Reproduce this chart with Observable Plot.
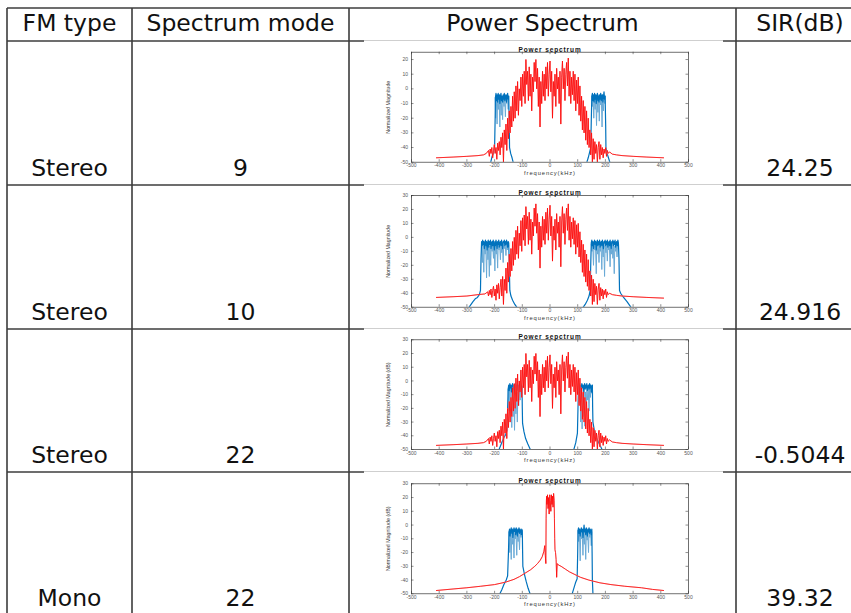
<!DOCTYPE html>
<html><head><meta charset="utf-8">
<script src="https://cdn.jsdelivr.net/npm/d3@7"></script>
<script src="https://cdn.jsdelivr.net/npm/@observablehq/plot@0.6"></script>
<style>
body{margin:0;background:#fff;}
#wrap{position:relative;width:851px;height:613px;overflow:hidden;background:#fff;}
.img{position:absolute;background:#fff;border-top:1px solid #cfcfcf;}
.img svg{display:block;}
</style></head><body><div id="wrap"></div>
<script>
// ---------- table content ----------
const headers = ["FM type", "Spectrum mode", "Power Spectrum", "SIR(dB)"];
const fmTypes = ["Stereo", "Stereo", "Stereo", "Mono"];
const modes = ["9", "10", "22", "22"];
const sirs = ["24.25", "24.916", "-0.5044", "39.32"];

// ---------- mini-plot content ----------
const plotTitle = "Power sepctrum";
const xLabel = "frequency(kHz)";
const yLabels = ["Normalized Magnitude", "Normalized Magnitude", "Normalized Magnitude (dB)", "Normalized Magnitude (dB)"];
const xTicks = [-500, -400, -300, -200, -100, 0, 100, 200, 300, 400, 500];
const yTicks25 = [-50, -40, -30, -20, -10, 0, 10, 20];
const yTicks30 = [-50, -40, -30, -20, -10, 0, 10, 20, 30];
const yTops = [25, 30, 30, 30];

// red spectrum (stereo, plots 1 and 3) [kHz, dB]
const redStereo = [[-410,-47],[-350,-46.5],[-300,-46],[-260,-45.5],[-240,-45],[-230,-44],
[-222,-42],[-219,-46],[-216,-41],[-213,-44],[-210,-40],[-207,-47],[-204,-42],[-201,-38],[-198,-44],[-195,-40],[-192,-48],[-189,-37],[-186,-42],[-183,-36],[-180,-45],[-177,-33],[-174,-40],[-171,-30],[-168,-50],[-165,-28],[-162,-38],[-159,-24],[-156,-42],[-153,-20],[-150,-34],[-147,-15],[-144,-30],[-141,-12],[-138,-26],[-135,-5],[-132,-22],[-129,-2],[-126,-20],[-123,2],[-120,-15],[-117,5],[-114,-18],[-111,0],[-108,-8],[-105,8],[-102,-12],[-99,10],[-96,-5],[-93,12],[-90,-10],[-87,20],[-84,3],[-81,12],[-78,-8],[-75,15],[-72,-5],[-69,10],[-66,-15],[-63,8],[-60,-2],[-57,18],[-54,5],[-51,20],[-48,0],[-45,14],[-42,-12],[-39,8],[-36,-26],[-33,5],[-30,-10],[-27,12],[-24,-5],[-21,10],[-18,-8],[-15,15],[-12,0],[-9,18],[-6,-5],[-3,10],[0,19],[3,-2],[6,12],[9,-20],[12,5],[15,-5],[18,10],[21,-12],[24,14],[27,0],[30,8],[33,-10],[36,12],[39,-24],[42,8],[45,19],[48,0],[51,14],[54,-8],[57,10],[60,18],[63,2],[66,21],[69,-5],[72,12],[75,-10],[78,8],[81,-4],[84,12],[87,-8],[90,10],[93,-15],[96,6],[99,-10],[102,8],[105,-18],[108,2],[111,-22],[114,-5],[117,-28],[120,-8],[123,-30],[126,-12],[129,-35],[132,-15],[135,-38],[138,-20],[141,-40],[144,-28],[147,-45],[150,-30],[153,-50],[156,-34],[159,-48],[162,-36],[165,-44],[168,-38],[171,-50],[174,-40],[177,-36],[180,-48],[183,-38],[186,-45],[189,-40],[192,-47],[195,-41],[198,-44],[201,-40],[204,-46],[207,-42],[210,-44],[215,-43],[225,-44.5],
[240,-45],[260,-45.5],[300,-46],[350,-46.5],[410,-47]];

// red spectrum, plot 2 (mode 10)
const redMode10 = [[-410,-43],[-350,-42.5],[-300,-42],[-260,-41],[-235,-40.5],
[-225,-39],[-222,-42],[-219,-38],[-216,-41],[-213,-37],[-210,-43],[-207,-38],[-204,-35],[-201,-42],[-198,-37],[-195,-45],[-192,-34],[-189,-40],[-186,-33],[-183,-44],[-180,-36],[-177,-30],[-174,-42],[-171,-28],[-168,-48],[-165,-30],[-162,-38],[-159,-22],[-156,-40],[-153,-18],[-150,-32],[-147,-12],[-144,-28],[-141,-8],[-138,-24],[-135,-3],[-132,-20],[-129,0],[-126,-16],[-123,5],[-120,-12],[-117,8],[-114,-15],[-111,3],[-108,-6],[-105,12],[-102,-10],[-99,14],[-96,-2],[-93,16],[-90,-6],[-87,22],[-84,6],[-81,15],[-78,-5],[-75,18],[-72,-2],[-69,13],[-66,-12],[-63,11],[-60,1],[-57,21],[-54,8],[-51,24],[-48,3],[-45,17],[-42,-9],[-39,11],[-36,-22],[-33,8],[-30,-7],[-27,15],[-24,-2],[-21,13],[-18,-5],[-15,18],[-12,3],[-9,21],[-6,-2],[-3,13],[0,23],[3,1],[6,15],[9,-17],[12,8],[15,-2],[18,13],[21,-9],[24,17],[27,3],[30,11],[33,-7],[36,15],[39,-21],[42,11],[45,22],[48,3],[51,17],[54,-5],[57,13],[60,21],[63,5],[66,24],[69,-2],[72,15],[75,-7],[78,11],[81,-1],[84,14],[87,-5],[90,12],[93,-12],[96,9],[99,-7],[102,10],[105,-14],[108,4],[111,-18],[114,-2],[117,-25],[120,-5],[123,-28],[126,-9],[129,-32],[132,-12],[135,-35],[138,-16],[141,-38],[144,-24],[147,-42],[150,-27],[153,-48],[156,-30],[159,-46],[162,-33],[165,-41],[168,-35],[171,-48],[174,-37],[177,-33],[180,-45],[183,-36],[186,-42],[189,-37],[192,-44],[195,-38],[198,-41],[201,-37],[204,-43],[207,-39],[210,-41],[215,-40],[225,-41],
[240,-41.5],[260,-42],[300,-42.5],[350,-43],[410,-43.5]];

// red spectrum, plot 4 (mono)
const redMono = [[-410,-47.6],[-350,-46.5],[-300,-45.6],[-250,-44.5],[-200,-43.3],[-160,-41.5],[-130,-39.5],[-110,-37.5],[-90,-35],[-70,-32.5],[-55,-30],[-45,-28],[-35,-25.5],[-28,-23],[-22,-19],[-19,-15],[-17,-22],[-15,-28],[-14,5],[-13,18],[-12,21],[-11,15],[-9,22],[-7,12],[-5,20],[-3,8],[-1,22],[1,18],[3,10],[5,22],[7,15],[9,21],[11,13],[13,23],[15,18],[16,5],[17,-10],[18,-18],[20,-20],[22,-25],[24,-38],[26,-28],[30,-29],[40,-30],[55,-32],[70,-34],[90,-36],[110,-38],[140,-40],[180,-42],[220,-43.3],[270,-44.5],[330,-45.6],[370,-46.8],[410,-47.6]];

// blue spectra: dark trace and light trace, one array per band
const blue1Dark = [
 [[-214,-50],[-209,-46],[-204,-44],[-200,-40],[-198,-20],[-197,-6],[-195,-3],[-193,-8],[-191,-4],[-189,-9],[-187,-3],[-185,-7],[-183,-4],[-181,-10],[-179,-5],[-177,-3],[-175,-8],[-173,-5],[-171,-9],[-169,-4],[-167,-7],[-165,-3],[-163,-8],[-161,-5],[-159,-4],[-157,-9],[-155,-5],[-153,-3],[-151,-7],[-149,-5],[-147,-25],[-146,-40],[-142,-44],[-137,-47],[-133,-50]],
 [[133,-50],[138,-47],[142,-44],[147,-40],[149,-22],[151,-5],[153,-3],[155,-8],[157,-4],[159,-9],[161,-3],[163,-7],[165,-4],[167,-10],[169,-5],[171,-3],[173,-8],[175,-5],[177,-9],[179,-4],[181,-7],[183,-3],[185,-8],[187,-5],[189,-4],[191,-9],[193,-5],[195,-2],[197,-7],[199,-5],[201,-25],[202,-40],[206,-44],[211,-47],[216,-50]]];
const blue1Light = [
 [[-198,-6],[-196,-20],[-194,-5],[-191,-24],[-189,-6],[-186,-14],[-184,-4],[-181,-26],[-179,-6],[-176,-18],[-174,-5],[-171,-21],[-169,-6],[-166,-12],[-164,-4],[-161,-19],[-159,-6],[-156,-10],[-154,-4],[-151,-14],[-149,-5]],
 [[151,-5],[153,-12],[155,-4],[158,-20],[160,-6],[163,-14],[165,-5],[168,-25],[170,-6],[173,-16],[175,-4],[178,-22],[180,-6],[183,-11],[185,-4],[188,-26],[190,-6],[193,-15],[195,-5],[198,-10],[200,-5]]];

const blue2Dark = [
 [[-292,-50],[-285,-48],[-278,-46],[-270,-44],[-262,-43],[-255,-41],[-251,-38],[-249,-15],[-247,-3],[-245,-6],[-243,-2],[-241,-5],[-239,-3],[-237,-8],[-235,-4],[-233,-2],[-231,-6],[-229,-3],[-227,-9],[-225,-4],[-223,-2],[-221,-7],[-219,-3],[-217,-5],[-215,-2],[-213,-8],[-211,-4],[-209,-3],[-207,-6],[-205,-2],[-203,-5],[-201,-9],[-199,-3],[-197,-6],[-195,-2],[-193,-4],[-191,-8],[-189,-3],[-187,-5],[-185,-2],[-183,-7],[-181,-4],[-179,-3],[-177,-6],[-175,-2],[-173,-5],[-171,-8],[-169,-3],[-167,-4],[-165,-2],[-163,-6],[-161,-3],[-159,-5],[-157,-2],[-155,-4],[-153,-7],[-151,-3],[-149,-4],[-147,-20],[-145,-38],[-141,-42],[-135,-45],[-127,-48],[-120,-50]],
 [[120,-50],[127,-48],[135,-45],[141,-42],[145,-38],[147,-20],[149,-4],[151,-2],[153,-6],[155,-3],[157,-8],[159,-4],[161,-2],[163,-5],[165,-3],[167,-9],[169,-4],[171,-2],[173,-6],[175,-3],[177,-5],[179,-2],[181,-7],[183,-4],[185,-3],[187,-6],[189,-2],[191,-5],[193,-8],[195,-3],[197,-4],[199,-2],[201,-6],[203,-3],[205,-5],[207,-2],[209,-7],[211,-4],[213,-3],[215,-6],[217,-2],[219,-5],[221,-8],[223,-3],[225,-4],[227,-2],[229,-6],[231,-3],[233,-5],[235,-2],[237,-7],[239,-4],[241,-3],[243,-6],[245,-2],[247,-4],[249,-15],[251,-38],[255,-40],[262,-42],[270,-44],[278,-46],[285,-48],[292,-50]]];
const blue2Light = [
 [[-247,-4],[-244,-18],[-242,-5],[-239,-25],[-237,-6],[-234,-12],[-232,-4],[-229,-29],[-227,-6],[-224,-16],[-222,-5],[-219,-28],[-217,-6],[-214,-20],[-212,-4],[-209,-10],[-207,-5],[-204,-15],[-202,-4],[-199,-24],[-197,-6],[-194,-12],[-192,-4],[-189,-22],[-187,-5],[-184,-9],[-182,-4],[-179,-16],[-177,-5],[-174,-11],[-172,-4],[-169,-18],[-167,-5],[-164,-8],[-162,-4],[-159,-13],[-157,-5],[-154,-9],[-152,-4],[-149,-6]],
 [[149,-5],[152,-10],[154,-4],[157,-20],[159,-5],[162,-9],[164,-4],[167,-26],[169,-6],[172,-12],[174,-4],[177,-18],[179,-5],[182,-10],[184,-4],[187,-23],[189,-6],[192,-14],[194,-4],[197,-28],[199,-6],[202,-11],[204,-4],[207,-17],[209,-5],[212,-9],[214,-4],[217,-21],[219,-6],[222,-12],[224,-4],[227,-15],[229,-5],[232,-26],[234,-6],[237,-10],[239,-4],[242,-14],[244,-5],[247,-8]]];

const blue3Dark = [
 [[-184,-50],[-176,-46],[-168,-42],[-160,-39],[-155,-36],[-153,-20],[-151,-6],[-149,-3],[-147,-7],[-145,-2],[-143,-5],[-141,-3],[-139,-8],[-137,-4],[-135,-2],[-133,-6],[-131,-3],[-129,-9],[-127,-4],[-125,-2],[-123,-5],[-121,-3],[-119,-7],[-117,-2],[-115,-4],[-113,-8],[-111,-3],[-109,-5],[-107,-2],[-105,-6],[-103,-3],[-101,-4],[-100,-20],[-99,-31],[-94,-37],[-88,-42],[-80,-46],[-71,-50]],
 [[86,-50],[93,-45],[99,-38],[101,-20],[103,-4],[105,-2],[107,-6],[109,-3],[111,-8],[113,-4],[115,-2],[117,-5],[119,-3],[121,-9],[123,-4],[125,-2],[127,-6],[129,-3],[131,-5],[133,-2],[135,-7],[137,-4],[139,-3],[141,-6],[143,-2],[145,-5],[147,-3],[149,-8],[151,-4],[153,-3],[154,-20],[155,-30],[160,-36],[167,-41],[176,-45],[188,-50]]];
const blue3Light = [
 [[-151,-6],[-148,-22],[-146,-6],[-143,-30],[-141,-5],[-138,-34],[-136,-8],[-133,-26],[-131,-6],[-128,-36],[-126,-10],[-123,-24],[-121,-6],[-118,-30],[-116,-8],[-113,-18],[-111,-6],[-108,-14],[-106,-5],[-103,-10],[-101,-4]],
 [[103,-4],[106,-16],[108,-5],[111,-30],[113,-7],[116,-35],[118,-9],[121,-26],[123,-6],[126,-33],[128,-8],[131,-20],[133,-5],[136,-14],[138,-6],[141,-22],[143,-5],[146,-12],[148,-4],[151,-9],[153,-4]]];

const blue4Dark = [
 [[-181,-50],[-174,-47],[-166,-43],[-158,-40],[-153,-37],[-150,-20],[-148,-5],[-146,-3],[-144,-8],[-142,-4],[-140,-2],[-138,-6],[-136,-3],[-134,-9],[-132,-4],[-130,-2],[-128,-5],[-126,-3],[-124,-7],[-122,-2],[-120,-4],[-118,-8],[-116,-3],[-114,-5],[-112,-2],[-110,-6],[-108,-3],[-106,-4],[-104,-7],[-102,-3],[-100,-4],[-99,-18],[-98,-30],[-92,-36],[-86,-41],[-79,-46],[-72,-50]],
 [[80,-50],[86,-46],[92,-42],[98,-39],[100,-20],[101,-4],[103,-2],[105,-6],[107,-3],[109,-8],[111,-4],[113,-2],[115,-5],[117,-3],[119,-9],[121,-4],[123,0],[125,-5],[127,-3],[129,-7],[131,-2],[133,-4],[135,-8],[137,-3],[139,-5],[141,-2],[143,-6],[145,-3],[147,-4],[149,-7],[151,-3],[152,-20],[153,-40],[155,-50]]];
const blue4Light = [
 [[-148,-5],[-145,-20],[-143,-5],[-140,-25],[-138,-6],[-135,-14],[-133,-4],[-130,-24],[-128,-6],[-125,-10],[-123,-4],[-120,-22],[-118,-6],[-115,-12],[-113,-4],[-110,-18],[-108,-5],[-105,-9],[-103,-4],[-101,-6]],
 [[101,-4],[104,-12],[106,-4],[109,-26],[111,-5],[114,-10],[116,-4],[119,-22],[121,-6],[124,-14],[126,-4],[129,-25],[131,-6],[134,-11],[136,-4],[139,-20],[141,-5],[144,-9],[146,-4],[149,-15],[151,-5]]];

const reds = [redStereo, redMode10, redStereo, redMono];
const blueDarks = [blue1Dark, blue2Dark, blue3Dark, blue4Dark];
const blueLights = [blue1Light, blue2Light, blue3Light, blue4Light];
const yTickSets = [yTicks25, yTicks30, yTicks30, yTicks30];

// ---------- layout (pixels) ----------
const W = 851, H = 613;
const colX = [7, 132, 349, 736];
const colCenter = [69.5, 240.5, 542.5, 800];
const rowY = [8, 41, 185, 329, 472];
const headBase = 31;
const rowBase = [176, 320, 463, 606];
const img = {left: 364, width: 359};
const imgH = [144, 144, 143, 141];
const mTop = [10.7, 10, 10.3, 11.3];
const mBot = [23.3, 22.3, 23, 19.7];
const mL = 47, mR = 35;

const wrap = d3.select("#wrap");
const svg = wrap.append("svg").attr("width", W).attr("height", H)
  .style("position", "absolute").style("left", 0).style("top", 0);
const lineColor = "#3c3c3c";
rowY.forEach(y => svg.append("line").attr("x1", colX[0]).attr("x2", W).attr("y1", y).attr("y2", y)
  .attr("stroke", lineColor).attr("stroke-width", 1.6));
colX.forEach(x => svg.append("line").attr("x1", x).attr("x2", x).attr("y1", rowY[0]).attr("y2", H)
  .attr("stroke", lineColor).attr("stroke-width", 1.6));
const txt = (x, y, s) => svg.append("text").attr("x", x).attr("y", y).attr("text-anchor", "middle")
  .attr("font-family", "DejaVu Sans, sans-serif").attr("font-size", 23.5).attr("fill", "#111").text(s);
headers.forEach((h, i) => txt(colCenter[i], headBase, h));
fmTypes.forEach((s, i) => txt(colCenter[0], rowBase[i], s));
modes.forEach((s, i) => txt(colCenter[1], rowBase[i], s));
sirs.forEach((s, i) => txt(colCenter[3], rowBase[i], s));

// ---------- mini spectrum plots ----------
for (let i = 0; i < 4; i++) {
  const h = imgH[i];
  const ih = h - mTop[i] - mBot[i];
  const iw = img.width - mL - mR;
  const yT = yTickSets[i];
  const pos = d => d[0], val = d => d[1];
  const chart = Plot.plot({
    width: img.width, height: h,
    marginLeft: mL, marginRight: mR, marginTop: mTop[i], marginBottom: mBot[i],
    x: {domain: [-500, 500]},
    y: {domain: [-50, yTops[i]]},
    style: {fontFamily: "Liberation Sans, Arial, sans-serif", background: "transparent", overflow: "visible"},
    marks: [
      Plot.axisX({ticks: xTicks, tickSize: 0, tickPadding: 1.5, tickFormat: d => String(d), fontSize: 5, fill: "#555", label: null}),
      Plot.axisY({ticks: yT, tickSize: 0, tickPadding: 3.5, tickFormat: d => String(d), fontSize: 5, fill: "#555", label: null}),
      Plot.tickX(xTicks, {x: d => d, insetTop: ih - 2.5, stroke: "#444", strokeWidth: 0.6}),
      Plot.tickX(xTicks, {x: d => d, insetBottom: ih - 2.5, stroke: "#444", strokeWidth: 0.6}),
      Plot.tickY(yT, {y: d => d, insetRight: iw - 2.5, stroke: "#444", strokeWidth: 0.6}),
      Plot.tickY(yT, {y: d => d, insetLeft: iw - 2.5, stroke: "#444", strokeWidth: 0.6}),
      ...blueLights[i].map(b => Plot.line(b, {x: pos, y: val, stroke: "#6aaad6", strokeWidth: 1.0, clip: true})),
      ...blueDarks[i].map(b => Plot.line(b, {x: pos, y: val, stroke: "#0072bd", strokeWidth: 1.2, clip: true})),
      Plot.line(reds[i], {x: pos, y: val, stroke: "#f4a6a6", strokeWidth: 1.0, clip: true}),
      Plot.line(reds[i], {x: pos, y: val, stroke: "#ff0000", strokeWidth: 0.75, clip: true}),
      Plot.frame({stroke: "#333", strokeWidth: 0.7}),
      Plot.text([plotTitle], {text: d => d, frameAnchor: "top", dy: -5, fontSize: 6.5, fontWeight: "bold", fill: "#111"}),
      Plot.text([xLabel], {text: d => d, frameAnchor: "bottom", dy: 12.5, fontSize: 5.8, fill: "#333"}),
      Plot.text([yLabels[i]], {text: d => d, frameAnchor: "left", textAnchor: "middle", dx: -23, rotate: -90, fontSize: 5.3, fill: "#333"})
    ]
  });
  d3.select(chart).selectAll("text").filter(function() { return this.textContent === xLabel || this.textContent === plotTitle; })
    .style("letter-spacing", "0.9px");
  const div = wrap.append("div").attr("class", "img")
    .style("left", img.left + "px").style("top", (rowY[i + 1] - 1) + "px")
    .style("width", img.width + "px").style("height", h + "px");
  div.node().appendChild(chart);
}
</script></body></html>
